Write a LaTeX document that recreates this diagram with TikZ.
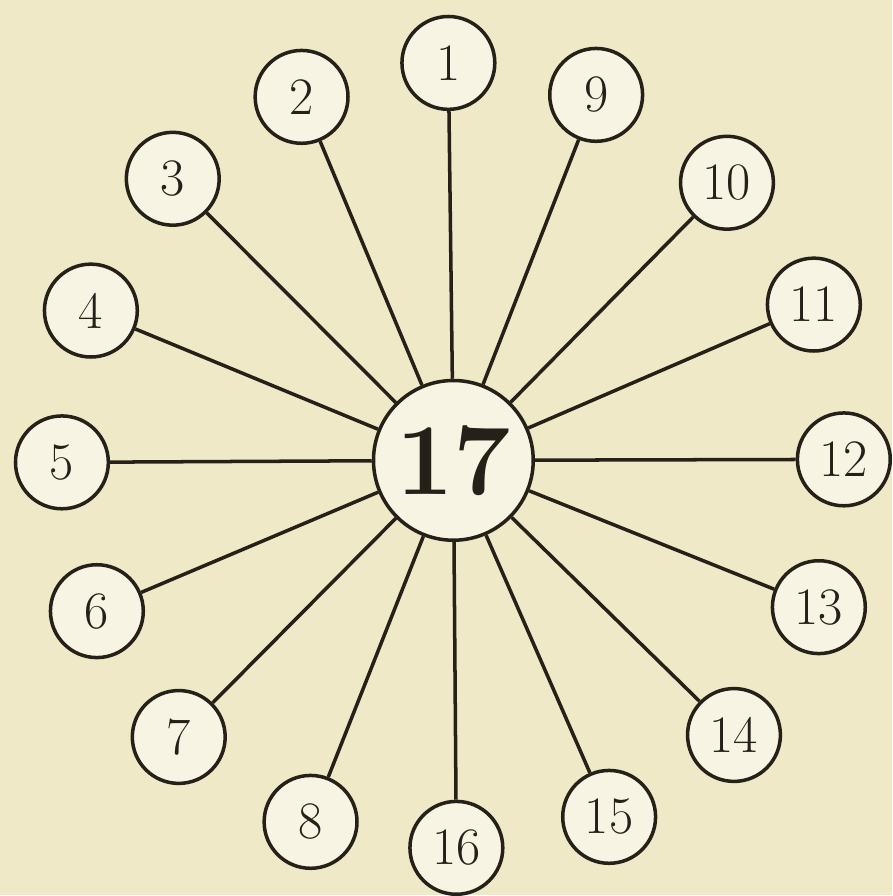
\documentclass[tikz,border=0pt]{standalone}
\usepackage{xcolor}
\usepackage{tikz}
\usetikzlibrary{positioning}

\definecolor{paper}{RGB}{239,233,199}
\definecolor{ink}{RGB}{38,33,24}

\begin{document}
\begin{tikzpicture}[
    x=0.02cm, y=-0.02cm,
    disc/.style={
        circle,
        draw=ink,
        fill=paper!50!white,
        line width=2pt,
        inner sep=0pt,
        text=ink
    },
    small/.style={disc, minimum size=1.86cm, font=\fontsize{30}{30}\selectfont},
    hub/.style={disc, minimum size=3.2cm, font=\fontsize{58}{58}\selectfont\bfseries},
    spoke/.style={draw=ink, line width=2pt}
]
\fill[paper] (0,0) rectangle (893,896);

\node[hub] (n17) at (454,461) {17};

\node[small] (n1) at (449,63) {1};
\node[small] (n2) at (302,97) {2};
\node[small] (n3) at (173,179) {3};
\node[small] (n4) at (91,311) {4};
\node[small] (n5) at (62,463) {5};
\node[small] (n6) at (97,612) {6};
\node[small] (n7) at (179,738) {7};
\node[small] (n8) at (311,823) {8};
\node[small] (n16) at (457,849) {16};
\node[small] (n15) at (610,818) {15};
\node[small] (n14) at (735,736) {14};
\node[small] (n13) at (820,608) {13};
\node[small] (n12) at (845,460) {12};
\node[small] (n11) at (815,305) {11};
\node[small] (n10) at (728,183) {10};
\node[small] (n9) at (597,95) {9};

\draw[spoke] (n1) -- (n17);
\draw[spoke] (n2) -- (n17);
\draw[spoke] (n3) -- (n17);
\draw[spoke] (n4) -- (n17);
\draw[spoke] (n5) -- (n17);
\draw[spoke] (n6) -- (n17);
\draw[spoke] (n7) -- (n17);
\draw[spoke] (n8) -- (n17);
\draw[spoke] (n16) -- (n17);
\draw[spoke] (n15) -- (n17);
\draw[spoke] (n14) -- (n17);
\draw[spoke] (n13) -- (n17);
\draw[spoke] (n12) -- (n17);
\draw[spoke] (n11) -- (n17);
\draw[spoke] (n10) -- (n17);
\draw[spoke] (n9) -- (n17);
\end{tikzpicture}
\end{document}
